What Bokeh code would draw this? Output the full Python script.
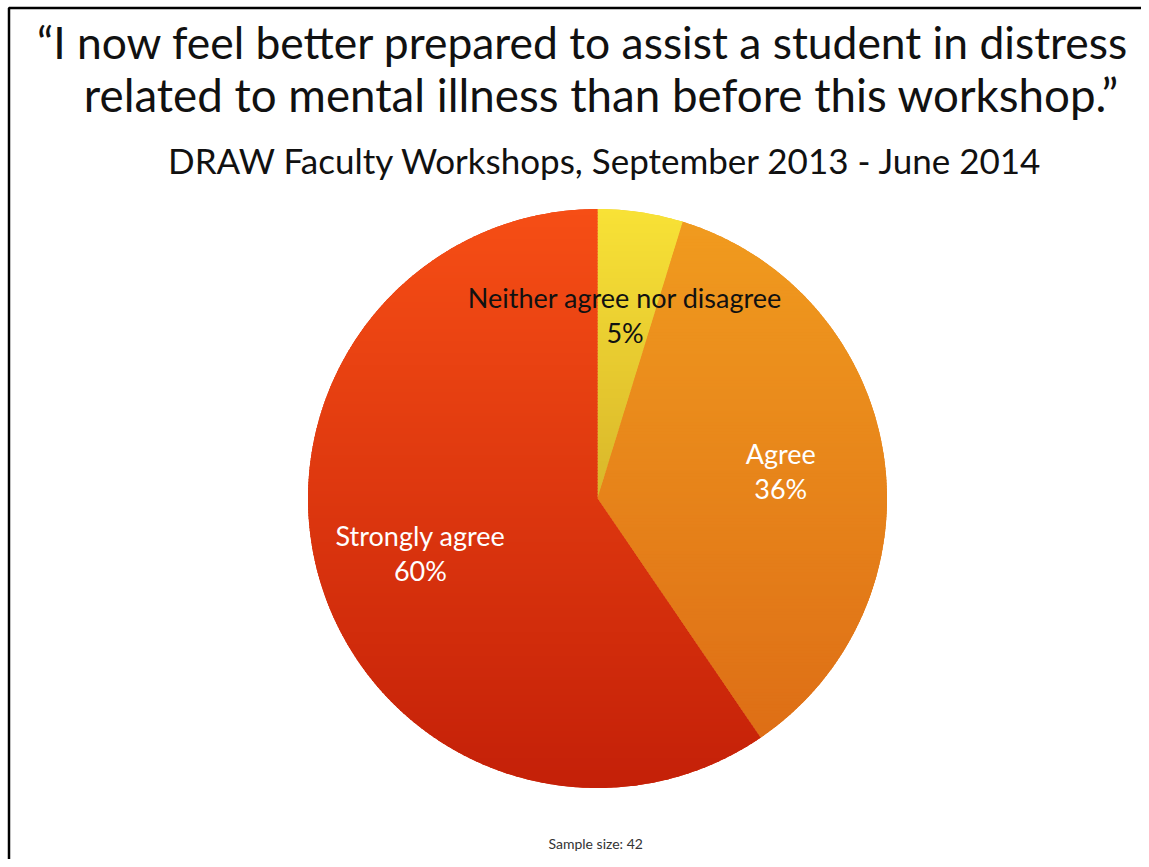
import numpy as np
from bokeh.plotting import figure
from bokeh.models import Range1d, ColumnDataSource
from bokeh.core.properties import value
from bokeh.embed import file_html
from bokeh.resources import INLINE

# ---- data ----
categories = ["Neither agree nor disagree", "Agree", "Strongly agree"]
counts = [2, 15, 25]
percent_labels = ["5%", "36%", "60%"]
colors = ["#E3C12C", "#E8821B", "#DD360E"]
grad_top = ["#F8E236", "#F19C1F", "#F64E15"]
grad_bottom = ["#B98A1E", "#DC6A15", "#C42008"]
label_colors = ["#111111", "#FFFFFF", "#FFFFFF"]
title_lines = ["\u201cI now feel better prepared to assist a student in distress",
               "related to mental illness than before this workshop.\u201d"]
subtitle = "DRAW Faculty Workshops, September 2013 - June 2014"
sample_note = "Sample size:  42"

# ---- layout: data space == screen pixels (y measured upward) ----
W, H = 1141, 859
FONT = "Lato"
cx, cy_s, R = 597, 498, 289.5


def Y(ys):
    return H - np.asarray(ys, dtype=float)


def BL(y_base, size):
    # bokeh places the alphabetic baseline ~0.39em lower than requested
    return H - (y_base - 0.39 * size)


p = figure(width=W, height=H, output_backend="svg", toolbar_location=None,
           x_range=Range1d(0, W), y_range=Range1d(0, H), min_border=0,
           outline_line_color=None, background_fill_color="white",
           border_fill_color="white")
p.axis.visible = False
p.grid.visible = False

# slide border (top and left)
p.line(x=[8.5, 8.5, W], y=Y([H, 7.5, 7.5]), line_color="black", line_width=2.5)

# ---- pie (solid base wedges) ----
cy = H - cy_s
vals = np.array(counts, dtype=float)
frac = vals / vals.sum()
cum = np.concatenate([[0], np.cumsum(frac)])
start = np.pi / 2 - 2 * np.pi * cum[:-1]
end = np.pi / 2 - 2 * np.pi * cum[1:]
src = ColumnDataSource(dict(start=start, end=end, color=colors, cat=categories))
p.wedge(x=cx, y=cy, radius=R, start_angle="start", end_angle="end",
        direction="clock", fill_color="color", line_color=None, source=src)


# ---- vertical gradient shading of each slice ----
def hex2rgb(h):
    h = h.lstrip("#")
    return np.array([int(h[i:i + 2], 16) for i in (0, 2, 4)], dtype=float)


def clip(poly, y0, keep_above):
    out = []
    n = len(poly)
    for i in range(n):
        a, b = poly[i], poly[(i + 1) % n]
        ina = (a[1] >= y0) if keep_above else (a[1] <= y0)
        inb = (b[1] >= y0) if keep_above else (b[1] <= y0)
        if ina:
            out.append(a)
        if ina != inb:
            t = (y0 - a[1]) / (b[1] - a[1])
            out.append((a[0] + t * (b[0] - a[0]), y0))
    return out


xs_all, ys_all, cs_all = [], [], []
step = 3.0
for s, e, ct, cb in zip(start, end, grad_top, grad_bottom):
    npts = max(8, int(abs(e - s) / (2 * np.pi) * 720))
    ang = np.linspace(s, e, npts)
    poly = [(cx, cy)] + [(cx + R * np.cos(a), cy + R * np.sin(a)) for a in ang]
    ymin = min(pt[1] for pt in poly)
    ymax = max(pt[1] for pt in poly)
    c_top, c_bot = hex2rgb(ct), hex2rgb(cb)
    ytop = ymax
    while ytop > ymin:
        ybot = max(ymin, ytop - step - 1.0)  # 1px overlap hides seams
        piece = clip(clip(poly, ybot, True), ytop, False)
        if len(piece) >= 3:
            ymid = ytop - step / 2
            t = np.clip((cy + R - ymid) / (2 * R), 0, 1)
            c = (1 - t) * c_top + t * c_bot
            xs_all.append([pt[0] for pt in piece])
            ys_all.append([pt[1] for pt in piece])
            cs_all.append("#%02x%02x%02x" % tuple(int(round(v)) for v in c))
        ytop -= step
p.patches(xs=xs_all, ys=ys_all, fill_color=cs_all, line_color=None)

# ---- slice labels ----
mid = (start + end) / 2
lr = 0.64 * R
lx = cx + lr * np.cos(mid)
ly = cy + lr * np.sin(mid)
labels = [f"{c}\n{pc}" for c, pc in zip(categories, percent_labels)]
lsrc = ColumnDataSource(dict(x=lx, y=ly, text=labels, color=label_colors))
p.text(x="x", y="y", text="text", source=lsrc, text_color="color",
       text_align="center", text_baseline="middle", text_font=value(FONT),
       text_font_size="27px", text_line_height=1.05)

# ---- titles ----
p.text(x=[582.5], y=[BL(58, 44.4)], text=[title_lines[0]], text_align="center",
       text_baseline="alphabetic", text_font=value(FONT), text_font_size="44.4px",
       text_color="#111111")
p.text(x=[601], y=[BL(112, 45.7)], text=[title_lines[1]], text_align="center",
       text_baseline="alphabetic", text_font=value(FONT), text_font_size="45.7px",
       text_color="#111111")
p.text(x=[605.5], y=[BL(173, 35)], text=[subtitle], text_align="center",
       text_baseline="alphabetic", text_font=value(FONT), text_font_size="35px",
       text_color="#111111")
p.text(x=[597], y=[BL(848, 14)], text=[sample_note], text_align="center",
       text_baseline="alphabetic", text_font=value(FONT), text_font_size="14px",
       text_color="#333333")

open("out.html", "w").write(file_html(p, INLINE))
